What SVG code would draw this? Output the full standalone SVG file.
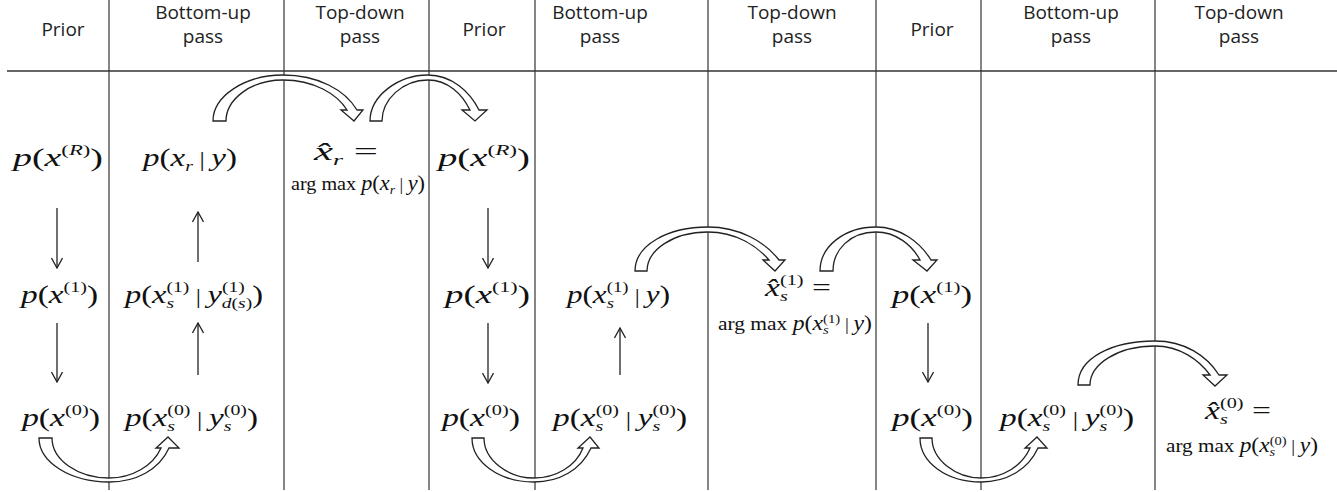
<svg xmlns="http://www.w3.org/2000/svg" width="1337" height="492" viewBox="0 0 1337 492">
<style>
.bg{fill:#fff}
.grid{stroke:#333;stroke-width:1.2;fill:none}
.hd{font-family:"Open Sans","Liberation Sans",sans-serif;font-size:19px;fill:#222;text-anchor:middle}
.m{font-family:"Liberation Serif","Times New Roman",serif;font-size:25px;fill:#111}
.i{font-style:italic}
.s{font-size:15px}
.b{font-size:20px}
.am{font-family:"Liberation Serif","Times New Roman",serif;font-size:19px;fill:#111}
.arr{stroke:#222;stroke-width:1.3;fill:none;marker-end:url(#ah)}
.blk{fill:#fff;stroke:#222;stroke-width:1.3;stroke-linejoin:miter}
</style>
<defs>
<marker id="ah" viewBox="0 0 12 12" refX="11" refY="6" markerWidth="12" markerHeight="12" markerUnits="userSpaceOnUse" orient="auto">
<path d="M1,0.5 L11,6 L1,11.5" fill="none" stroke="#222" stroke-width="1.3"/>
</marker>
</defs>
<rect class="bg" x="0" y="0" width="1337" height="492"/>

<g id="grid" class="grid">
<line x1="7" y1="71" x2="1337" y2="71" stroke-width="1.5"/>
<line x1="109" y1="0" x2="109" y2="490"/>
<line x1="284" y1="0" x2="284" y2="490"/>
<line x1="429" y1="0" x2="429" y2="490"/>
<line x1="535" y1="0" x2="535" y2="490"/>
<line x1="708" y1="0" x2="708" y2="490"/>
<line x1="876" y1="0" x2="876" y2="490"/>
<line x1="981" y1="0" x2="981" y2="490"/>
<line x1="1155" y1="0" x2="1155" y2="490"/>
</g>

<g id="headers">
<text class="hd" x="63" y="36">Prior</text>
<text class="hd" x="203" y="19">Bottom-up</text>
<text class="hd" x="203" y="43">pass</text>
<text class="hd" x="360" y="19">Top-down</text>
<text class="hd" x="360" y="43">pass</text>
<text class="hd" x="484" y="36">Prior</text>
<text class="hd" x="600" y="19">Bottom-up</text>
<text class="hd" x="600" y="43">pass</text>
<text class="hd" x="792" y="19">Top-down</text>
<text class="hd" x="792" y="43">pass</text>
<text class="hd" x="932" y="36">Prior</text>
<text class="hd" x="1071" y="19">Bottom-up</text>
<text class="hd" x="1071" y="43">pass</text>
<text class="hd" x="1239" y="19">Top-down</text>
<text class="hd" x="1239" y="43">pass</text>
</g>

<g id="connectors">
<line class="arr" x1="57" y1="208" x2="57" y2="268"/>
<line class="arr" x1="57" y1="323" x2="57" y2="382"/>
<line class="arr" x1="198" y1="262" x2="198" y2="212"/>
<line class="arr" x1="198" y1="375" x2="198" y2="323"/>
<line class="arr" x1="488" y1="208" x2="488" y2="268"/>
<line class="arr" x1="488" y1="323" x2="488" y2="383"/>
<line class="arr" x1="620" y1="375" x2="620" y2="328"/>
<line class="arr" x1="928" y1="323" x2="928" y2="382"/>
<path class="blk" d="M213,121 C213,96 245,75 283,75 C318,75 345,90 357,110 L363,110 L354,121 L341,110 L347,110 C337,94 314,80 283,80 C250,80 226,100 226,121 Z"/>
<path class="blk" d="M370,121 C370,96 398,75 428,75 C452,75 470,92 479,110 L487,110 L475,121 L462,110 L470,110 C462,94 448,80 428,80 C402,80 382,100 382,121 Z"/>
<path class="blk" d="M635,271 C635,245 668,227 708,227 C740,227 765,242 779,260 L785,260 L775,271 L763,260 L769,260 C757,246 736,232 708,232 C673,232 647,250 647,271 Z"/>
<path class="blk" d="M820,271 C820,246 845,227 876,227 C900,227 920,242 931,260 L937,260 L927,271 L913,260 L920,260 C912,245 896,232 876,232 C850,232 833,250 833,271 Z"/>
<path class="blk" d="M1078,385 C1078,358 1112,341 1155,341 C1185,341 1207,356 1219,375 L1227,375 L1215,386 L1203,375 L1210,375 C1199,360 1180,346 1155,346 C1118,346 1090,364 1090,385 Z"/>
<path class="blk" d="M39,438 L52,438 C52,460 78,478 109,478 C132,478 153,466 161,448 L156,448 L168,437 L179,448 L169,448 C159,470 136,482 109,482 C70,482 39,462 39,438 Z"/>
<path class="blk" d="M472,438 L484,438 C484,460 508,478 534,478 C556,478 576,466 583,448 L578,448 L590,437 L599,448 L591,448 C581,470 559,482 534,482 C499,482 472,462 472,438 Z"/>
<path class="blk" d="M920,438 L932,438 C932,460 956,478 981,478 C1003,478 1022,466 1030,448 L1025,448 L1037,437 L1047,448 L1038,448 C1028,470 1006,482 981,482 C946,482 920,462 920,438 Z"/>
</g>

<g id="prior-R-1"><text class="m" x="13" y="166" textLength="90" lengthAdjust="spacingAndGlyphs"><tspan class="i">p</tspan>(<tspan class="i">x</tspan><tspan class="s" dy="-11">(<tspan class="i">R</tspan>)</tspan><tspan dy="11">)</tspan></text></g>
<g id="bu-r-1"><text class="m" x="143" y="166" textLength="94" lengthAdjust="spacingAndGlyphs"><tspan class="i">p</tspan>(<tspan class="i">x</tspan><tspan class="i s" dy="5">r</tspan><tspan class="b" dy="-5"> | </tspan><tspan class="i">y</tspan>)</text></g>
<g id="td-r-1">
<text class="m" x="314" y="160" textLength="64" lengthAdjust="spacingAndGlyphs"><tspan class="i">x&#770;</tspan><tspan class="i s" dy="5">r</tspan><tspan dy="-5"> =</tspan></text>
<text class="am" x="291" y="190" textLength="134" lengthAdjust="spacingAndGlyphs">arg max <tspan class="i" font-size="21">p</tspan><tspan font-size="21">(</tspan><tspan class="i" font-size="21">x</tspan><tspan class="i" font-size="13" dy="4">r</tspan><tspan font-size="17" dy="-4"> | </tspan><tspan class="i" font-size="21">y</tspan><tspan font-size="21">)</tspan></text>
</g>
<g id="prior-R-2"><text class="m" x="438" y="166" textLength="92" lengthAdjust="spacingAndGlyphs"><tspan class="i">p</tspan>(<tspan class="i">x</tspan><tspan class="s" dy="-11">(<tspan class="i">R</tspan>)</tspan><tspan dy="11">)</tspan></text></g>

<g id="prior-1-1"><text class="m" x="21" y="303" textLength="77" lengthAdjust="spacingAndGlyphs"><tspan class="i">p</tspan>(<tspan class="i">x</tspan><tspan class="s" dy="-11">(1)</tspan><tspan dy="11">)</tspan></text></g>
<g id="bu-1-1"><text class="m" x="125" y="303" textLength="138" lengthAdjust="spacingAndGlyphs"><tspan class="i">p</tspan>(<tspan class="i">x</tspan><tspan class="i s" dy="5">s</tspan><tspan class="s" dx="-5.8" dy="-16">(1)</tspan><tspan class="b" dy="11"> | </tspan><tspan class="i">y</tspan><tspan class="s" dy="5"><tspan class="i">d</tspan>(<tspan class="i">s</tspan>)</tspan><tspan class="s" dx="-23.3" dy="-16">(1)</tspan><tspan dx="5.8" dy="11">)</tspan></text></g>
<g id="prior-1-2"><text class="m" x="445" y="303" textLength="85" lengthAdjust="spacingAndGlyphs"><tspan class="i">p</tspan>(<tspan class="i">x</tspan><tspan class="s" dy="-11">(1)</tspan><tspan dy="11">)</tspan></text></g>
<g id="bu-1-2"><text class="m" x="567" y="303" textLength="103" lengthAdjust="spacingAndGlyphs"><tspan class="i">p</tspan>(<tspan class="i">x</tspan><tspan class="i s" dy="5">s</tspan><tspan class="s" dx="-5.8" dy="-16">(1)</tspan><tspan class="b" dy="11"> | </tspan><tspan class="i">y</tspan>)</text></g>
<g id="td-1">
<text class="m" x="765" y="296" textLength="66" lengthAdjust="spacingAndGlyphs"><tspan class="i">x&#770;</tspan><tspan class="i s" dy="5">s</tspan><tspan class="s" dx="-5.8" dy="-16">(1)</tspan><tspan dy="11"> =</tspan></text>
<text class="am" x="718" y="330" textLength="154" lengthAdjust="spacingAndGlyphs">arg max <tspan class="i" font-size="21">p</tspan><tspan font-size="21">(</tspan><tspan class="i" font-size="21">x</tspan><tspan class="i" font-size="13" dy="4">s</tspan><tspan font-size="13" dx="-5" dy="-11">(1)</tspan><tspan font-size="17" dy="7"> | </tspan><tspan class="i" font-size="21">y</tspan><tspan font-size="21">)</tspan></text>
</g>
<g id="prior-1-3"><text class="m" x="892" y="303" textLength="80" lengthAdjust="spacingAndGlyphs"><tspan class="i">p</tspan>(<tspan class="i">x</tspan><tspan class="s" dy="-11">(1)</tspan><tspan dy="11">)</tspan></text></g>

<g id="prior-0-1"><text class="m" x="22" y="426" textLength="78" lengthAdjust="spacingAndGlyphs"><tspan class="i">p</tspan>(<tspan class="i">x</tspan><tspan class="s" dy="-11">(0)</tspan><tspan dy="11">)</tspan></text></g>
<g id="bu-0-1"><text class="m" x="125" y="426" textLength="133" lengthAdjust="spacingAndGlyphs"><tspan class="i">p</tspan>(<tspan class="i">x</tspan><tspan class="i s" dy="5">s</tspan><tspan class="s" dx="-5.8" dy="-16">(0)</tspan><tspan class="b" dy="11"> | </tspan><tspan class="i">y</tspan><tspan class="i s" dy="5">s</tspan><tspan class="s" dx="-5.8" dy="-16">(0)</tspan><tspan dy="11">)</tspan></text></g>
<g id="prior-0-2"><text class="m" x="442" y="426" textLength="78" lengthAdjust="spacingAndGlyphs"><tspan class="i">p</tspan>(<tspan class="i">x</tspan><tspan class="s" dy="-11">(0)</tspan><tspan dy="11">)</tspan></text></g>
<g id="bu-0-2"><text class="m" x="553" y="426" textLength="134" lengthAdjust="spacingAndGlyphs"><tspan class="i">p</tspan>(<tspan class="i">x</tspan><tspan class="i s" dy="5">s</tspan><tspan class="s" dx="-5.8" dy="-16">(0)</tspan><tspan class="b" dy="11"> | </tspan><tspan class="i">y</tspan><tspan class="i s" dy="5">s</tspan><tspan class="s" dx="-5.8" dy="-16">(0)</tspan><tspan dy="11">)</tspan></text></g>
<g id="prior-0-3"><text class="m" x="892" y="426" textLength="81" lengthAdjust="spacingAndGlyphs"><tspan class="i">p</tspan>(<tspan class="i">x</tspan><tspan class="s" dy="-11">(0)</tspan><tspan dy="11">)</tspan></text></g>
<g id="bu-0-3"><text class="m" x="1000" y="426" textLength="134" lengthAdjust="spacingAndGlyphs"><tspan class="i">p</tspan>(<tspan class="i">x</tspan><tspan class="i s" dy="5">s</tspan><tspan class="s" dx="-5.8" dy="-16">(0)</tspan><tspan class="b" dy="11"> | </tspan><tspan class="i">y</tspan><tspan class="i s" dy="5">s</tspan><tspan class="s" dx="-5.8" dy="-16">(0)</tspan><tspan dy="11">)</tspan></text></g>
<g id="td-0">
<text class="m" x="1205" y="419" textLength="66" lengthAdjust="spacingAndGlyphs"><tspan class="i">x&#770;</tspan><tspan class="i s" dy="5">s</tspan><tspan class="s" dx="-5.8" dy="-16">(0)</tspan><tspan dy="11"> =</tspan></text>
<text class="am" x="1166" y="452" textLength="152" lengthAdjust="spacingAndGlyphs">arg max <tspan class="i" font-size="21">p</tspan><tspan font-size="21">(</tspan><tspan class="i" font-size="21">x</tspan><tspan class="i" font-size="13" dy="4">s</tspan><tspan font-size="13" dx="-5" dy="-11">(0)</tspan><tspan font-size="17" dy="7"> | </tspan><tspan class="i" font-size="21">y</tspan><tspan font-size="21">)</tspan></text>
</g>
</svg>
